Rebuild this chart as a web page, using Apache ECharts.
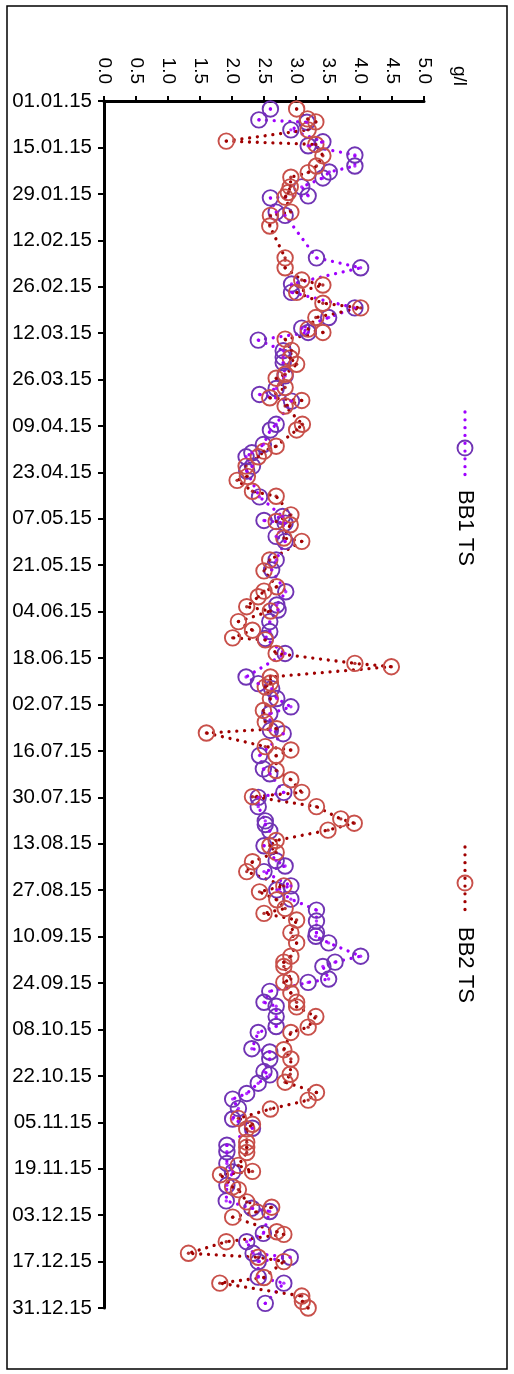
<!DOCTYPE html>
<html><head><meta charset="utf-8">
<script src="https://cdn.jsdelivr.net/npm/echarts@6/dist/echarts.min.js"></script>
<style>html,body{margin:0;padding:0;background:#fff}#c{width:514px;height:1374px}</style>
</head><body><div id="c"></div>
<script>
// Days counted from 01.01.15 (day 0)
const seriesNames = ['BB1 TS', 'BB2 TS'];
const unitLabel = 'g/l';

const bb1Day = [
  2.4, 5.7, 6.4, 8.7, 12.3, 13.5, 16.3, 19.6, 21.4, 23.2,
  25.9, 28.6, 29.2, 33.5, 34.5, 47.3, 50.3, 55.2, 57.7, 62.4,
  65.3, 68.5, 69.8, 72.1, 75.3, 77.3, 78.9, 82.9, 86.7, 88.5,
  90.5, 97.5, 99.2, 103.6, 106.1, 107.3, 110.1, 111.6, 119.4, 125.3,
  126.5, 127.3, 131.3, 132.8, 138.4, 141.4, 148.0, 152.0, 153.5, 157.0,
  160.0, 162.1, 166.6, 173.7, 175.7, 177.2, 180.2, 182.7, 184.8, 189.8,
  190.8, 197.4, 201.4, 202.9, 208.5, 210.0, 212.8, 217.1, 218.2, 220.1,
  224.6, 229.1, 230.7, 232.4, 236.7, 237.9, 240.7, 244.0, 247.3, 250.8,
  251.9, 253.9, 257.9, 259.7, 261.0, 264.8, 265.8, 268.5, 271.8, 273.0,
  276.1, 279.1, 280.9, 285.8, 286.8, 288.9, 292.7, 293.7, 296.2, 299.3,
  301.0, 303.8, 307.0, 309.8, 314.9, 316.9, 320.4, 323.0, 327.0, 331.7,
  333.9, 334.9, 341.5, 344.0, 347.5, 348.7, 350.0, 354.7, 356.5, 362.6
];
const bb1Value = [
  2.60, 2.42, 3.17, 2.92, 3.42, 3.19, 3.92, 3.92, 3.52, 3.42,
  3.09, 3.19, 2.60, 2.69, 2.83, 3.32, 4.01, 2.93, 2.93, 3.92,
  3.51, 3.09, 3.19, 2.41, 2.80, 2.80, 2.80, 2.83, 2.69, 2.43,
  2.93, 2.69, 2.60, 2.49, 2.31, 2.22, 2.32, 2.23, 2.43, 2.79,
  2.50, 2.83, 2.69, 2.83, 2.69, 2.62, 2.84, 2.70, 2.72, 2.59,
  2.59, 2.52, 2.83, 2.22, 2.41, 2.62, 2.70, 2.92, 2.59, 2.60,
  2.80, 2.43, 2.49, 2.59, 2.81, 2.41, 2.41, 2.52, 2.52, 2.59,
  2.50, 2.69, 2.83, 2.50, 2.92, 2.70, 2.92, 3.32, 3.32, 3.32,
  3.31, 3.51, 4.01, 3.61, 3.42, 3.51, 3.19, 2.59, 2.50, 2.69,
  2.69, 2.69, 2.41, 2.31, 2.59, 2.59, 2.50, 2.59, 2.41, 2.23,
  2.01, 2.10, 2.01, 2.32, 1.92, 1.92, 1.92, 2.01, 1.92, 1.91,
  2.31, 2.59, 2.49, 2.23, 2.33, 2.91, 2.41, 2.41, 2.81, 2.52
];

const bb2Day = [
  2.4, 5.4, 6.3, 8.7, 12.1, 13.1, 16.5, 19.6, 21.6, 23.0,
  25.9, 27.6, 29.0, 33.5, 34.5, 37.7, 47.3, 50.3, 54.0, 55.5,
  57.7, 61.0, 62.4, 65.3, 68.8, 69.8, 71.8, 75.2, 77.5, 79.4,
  82.4, 83.6, 86.4, 89.5, 90.3, 92.0, 97.5, 99.2, 104.1, 105.6,
  107.3, 110.1, 113.2, 114.4, 117.7, 119.2, 124.8, 126.8, 127.8, 131.8,
  132.8, 138.4, 141.7, 146.5, 147.8, 149.5, 152.5, 153.8, 157.0, 159.6,
  161.9, 162.5, 166.6, 169.6, 170.6, 173.7, 175.5, 176.7, 180.2, 183.8,
  187.3, 189.3, 190.6, 194.7, 195.7, 197.4, 201.9, 204.7, 208.5, 209.8,
  212.8, 216.5, 217.8, 219.9, 223.0, 224.6, 226.6, 229.4, 232.4, 236.7,
  238.5, 240.9, 243.5, 245.0, 247.0, 250.8, 253.9, 257.9, 259.7, 261.0,
  264.8, 265.8, 269.0, 271.8, 273.2, 276.1, 279.3, 280.9, 286.1, 288.9,
  293.5, 295.9, 299.0, 301.3, 304.0, 306.8, 308.6, 310.0, 314.0, 315.5,
  317.1, 321.0, 322.8, 323.8, 327.5, 328.3, 332.0, 333.6, 335.0, 336.6,
  341.0, 341.8, 344.0, 347.5, 348.7, 350.0, 354.8, 356.5, 360.4, 362.0,
  364.0
];
const bb2Value = [
  3.01, 3.18, 3.31, 3.19, 1.91, 3.31, 3.42, 3.32, 3.19, 2.92,
  2.91, 2.88, 2.83, 2.92, 2.60, 2.59, 2.83, 2.83, 3.09, 3.42,
  3.01, 3.42, 4.01, 3.31, 3.19, 3.42, 2.83, 2.93, 2.91, 3.01,
  2.83, 2.69, 2.83, 2.59, 3.09, 2.83, 3.10, 3.01, 2.69, 2.50,
  2.41, 2.22, 2.24, 2.08, 2.32, 2.69, 2.92, 2.69, 2.91, 2.81,
  3.09, 2.59, 2.50, 2.70, 2.50, 2.41, 2.23, 2.60, 2.10, 2.32,
  2.01, 2.52, 2.69, 3.92, 4.49, 2.60, 2.60, 2.52, 2.60, 2.49,
  2.52, 2.70, 1.60, 2.52, 2.92, 2.69, 2.69, 2.92, 3.09, 2.32,
  3.32, 3.70, 3.91, 3.50, 2.69, 2.59, 2.69, 2.32, 2.23, 2.81,
  2.43, 2.70, 2.83, 2.50, 3.01, 2.92, 3.01, 2.92, 2.81, 2.81,
  2.92, 2.81, 2.92, 3.01, 3.01, 3.31, 3.19, 2.92, 2.81, 2.92,
  2.91, 2.83, 3.32, 3.19, 2.60, 2.10, 2.32, 2.23, 2.23, 2.23,
  2.23, 2.10, 2.32, 1.82, 2.01, 2.10, 2.23, 2.62, 2.39, 2.01,
  2.70, 2.81, 1.91, 1.32, 2.41, 2.81, 2.50, 1.81, 3.09, 3.10,
  3.19
];

const colors = {
  bb1Line: '#a000ff', bb1Ring: '#7034b4',
  bb2Line: '#a00000', bb2Ring: '#c8504a'
};
const FONT = '"Liberation Sans", Arial, sans-serif';
const DOT = [0.01, 7.8];

function pad(n){ return (n < 10 ? '0' : '') + n; }
const base = Date.UTC(2015, 0, 1);
function fmtDay(d){
  const t = new Date(base + Math.round(d) * 86400000);
  return pad(t.getUTCDate()) + '.' + pad(t.getUTCMonth() + 1) + '.' + String(t.getUTCFullYear()).slice(2);
}
function pairs(vals, days){ return vals.map((v, i) => [v, days[i]]); }

function lineSeries(name, vals, days, lineColor, ringColor){
  return {
    name: name, type: 'line', data: pairs(vals, days),
    symbol: 'circle', symbolSize: 15.5, showSymbol: true, showAllSymbol: true,
    clip: false,
    lineStyle: { color: lineColor, width: 3.3, type: DOT, cap: 'round' },
    itemStyle: { color: 'rgba(0,0,0,0)', borderColor: ringColor, borderWidth: 1.9 },
    emphasis: { disabled: true }, silent: true, z: 2
  };
}
function dotSeries(vals, days, color){
  return {
    type: 'scatter', data: pairs(vals, days), symbol: 'circle', symbolSize: 3.4,
    itemStyle: { color: color }, silent: true, clip: false, z: 3
  };
}
function legendGroup(x, yTop, yCircle, yBottom, yText, lineColor, ringColor, label){
  return [
    { type: 'line', silent: true, shape: { x1: x, y1: yTop, x2: x, y2: yBottom },
      style: { stroke: lineColor, lineWidth: 3.3, lineDash: DOT, lineCap: 'round' } },
    { type: 'circle', silent: true, shape: { cx: x, cy: yCircle, r: 7.5 },
      style: { fill: 'none', stroke: ringColor, lineWidth: 1.9 } },
    { type: 'text', silent: true, x: x, y: yText, rotation: -Math.PI / 2,
      style: { text: label, font: '22px ' + FONT, fill: '#000',
        align: 'left', verticalAlign: 'middle', textAlign: 'left', textVerticalAlign: 'middle' } }
  ];
}

const chart = echarts.init(document.getElementById('c'), null, { renderer: 'canvas' });
chart.setOption({
  animation: false,
  backgroundColor: '#fff',
  grid: { left: 104, top: 101, width: 320, height: 1207, containLabel: false },
  xAxis: {
    type: 'value', position: 'top', min: 0, max: 5, interval: 0.5,
    axisLine: { show: true, lineStyle: { color: '#000', width: 3 } },
    axisTick: { show: true, inside: false, length: 5, lineStyle: { color: '#000', width: 2 } },
    axisLabel: { rotate: -90, margin: 17, color: '#000', fontSize: 19, fontFamily: FONT,
      formatter: v => v.toFixed(1) },
    splitLine: { show: false }
  },
  yAxis: {
    type: 'value', inverse: true, min: 0, max: 364, interval: 14,
    axisLine: { show: true, lineStyle: { color: '#000', width: 3 } },
    axisTick: { show: true, inside: false, length: 6, lineStyle: { color: '#000', width: 2 } },
    axisLabel: { margin: 12, color: '#000', fontSize: 20.5, fontFamily: FONT, formatter: fmtDay },
    splitLine: { show: false }
  },
  series: [
    lineSeries(seriesNames[0], bb1Value, bb1Day, colors.bb1Line, colors.bb1Ring),
    lineSeries(seriesNames[1], bb2Value, bb2Day, colors.bb2Line, colors.bb2Ring),
    dotSeries(bb1Value, bb1Day, colors.bb1Line),
    dotSeries(bb2Value, bb2Day, colors.bb2Line)
  ],
  graphic: [
    { type: 'rect', silent: true, shape: { x: 7, y: 6, width: 500, height: 1363 },
      style: { fill: 'none', stroke: '#000', lineWidth: 1.5 } },
    { type: 'text', silent: true, x: 459, y: 66, rotation: -Math.PI / 2,
      style: { text: unitLabel, font: '19px ' + FONT, fill: '#000',
        align: 'left', verticalAlign: 'middle', textAlign: 'left', textVerticalAlign: 'middle' } }
  ].concat(
    legendGroup(465, 412, 448, 478, 490, colors.bb1Line, colors.bb1Ring, seriesNames[0]),
    legendGroup(465, 847, 883, 915, 927, colors.bb2Line, colors.bb2Ring, seriesNames[1])
  )
});
</script>
</body></html>
